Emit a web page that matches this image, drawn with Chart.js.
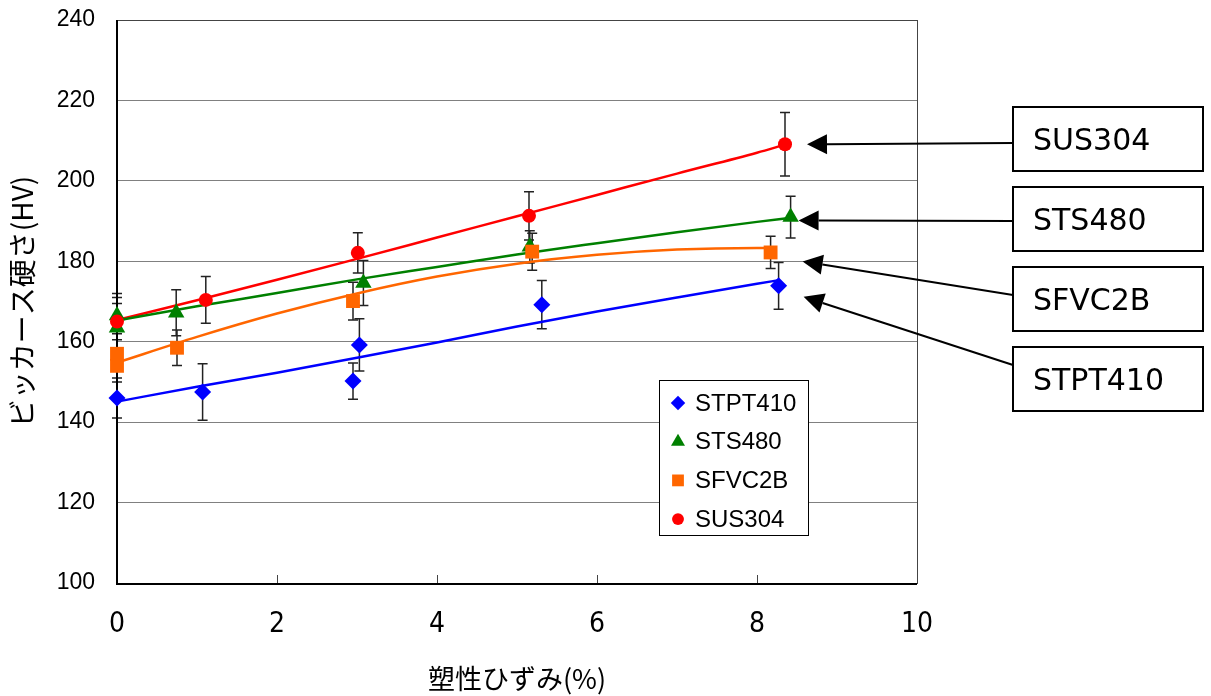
<!DOCTYPE html>
<html>
<head>
<meta charset="utf-8">
<script src="https://cdn.jsdelivr.net/npm/chart.js@4.4.1/dist/chart.umd.min.js"></script>
<style>
	html, body { margin: 0; padding: 0; background: #fff; }
	#wrap { width: 1211px; height: 696px; position: relative; }
</style>
</head>
<body>
<div id="wrap"><canvas id="chart"></canvas></div>
<script>
// series
const seriesNames = ["STPT410", "STS480", "SFVC2B", "SUS304"];
const seriesColors = ["#0000ff", "#008000", "#ff6600", "#ff0000"];
const seriesMarkers = ["rectRot", "triangle", "rect", "circle"];

// measured points (strain %, hardness HV, error +/-)
const stpt410X = [0, 1.07, 2.95, 3.03, 5.31, 8.27];
const stpt410Y = [146, 147.5, 150.2, 159.2, 169.2, 173.9];
const stpt410Err = [5, 7, 4.5, 6.5, 6, 5.8];

const sts480X = [0, 0, 0.74, 3.08, 5.16, 8.42];
const sts480Y = [166.5, 163.5, 167.2, 174.6, 183.6, 191];
const sts480Err = [4.5, 6, 5.7, 5.6, 4, 5.2];

const sfvc2bX = [0, 0, 0.75, 2.95, 5.19, 8.17];
const sfvc2bY = [157, 154, 158.5, 170.1, 182.4, 182.2];
const sfvc2bErr = [3.5, 4, 4.4, 4.7, 4.6, 4];

const sus304X = [0, 1.11, 3.01, 5.15, 8.35];
const sus304Y = [165, 170.4, 182.1, 191.3, 209.1];
const sus304Err = [7, 5.8, 5, 6, 7.9];

// trend curves
const stpt410TrendX = [0, 1, 2, 3, 4, 5, 6, 7, 8, 8.27];
const stpt410TrendY = [145.1, 148.8, 152.3, 156.0, 159.8, 163.8, 167.5, 171.0, 174.4, 175.3];
const sts480TrendX = [0, 1, 2, 3, 4, 5, 6, 7, 8, 8.45];
const sts480TrendY = [165.3, 168.8, 172.1, 175.5, 178.6, 181.7, 184.5, 187.2, 189.8, 190.9];
const sfvc2bTrendX = [0, 1, 2, 3, 4, 5, 6, 7, 8, 8.17];
const sfvc2bTrendY = [154.8, 161.2, 167.0, 172.0, 176.2, 179.4, 181.6, 182.9, 183.3, 183.3];
const sus304TrendX = [0, 1, 2, 3, 4, 5, 6, 7, 8, 8.35];
const sus304TrendY = [165.4, 170.3, 175.4, 180.6, 185.9, 191.2, 196.5, 201.8, 207.0, 209.0];

// axes
const xTicks = [0, 2, 4, 6, 8, 10];
const yTicks = [100, 120, 140, 160, 180, 200, 220, 240];
const xTitle = "塑性ひずみ(%)";
const yTitle = "ビッカース硬さ(HV)";

const pointsX = [stpt410X, sts480X, sfvc2bX, sus304X];
const pointsY = [stpt410Y, sts480Y, sfvc2bY, sus304Y];
const pointsErr = [stpt410Err, sts480Err, sfvc2bErr, sus304Err];
const trendX = [stpt410TrendX, sts480TrendX, sfvc2bTrendX, sus304TrendX];
const trendY = [stpt410TrendY, sts480TrendY, sfvc2bTrendY, sus304TrendY];

const markerRadius = [8.5, 9.5, 9.8, 7];

const pairs = (xs, ys) => xs.map((x, i) => ({ x, y: ys[i] }));

const datasets = [];
seriesNames.forEach((name, i) => {
	datasets.push({
		label: name,
		data: pairs(pointsX[i], pointsY[i]),
		errors: pointsErr[i],
		showLine: false,
		pointStyle: seriesMarkers[i],
		pointRadius: markerRadius[i],
		pointBackgroundColor: seriesColors[i],
		pointBorderWidth: 0,
		borderColor: seriesColors[i],
		clip: false,
		order: 3 - i,
	});
});
seriesNames.forEach((name, i) => {
	datasets.push({
		label: name + " trend",
		data: pairs(trendX[i], trendY[i]),
		showLine: true,
		borderColor: seriesColors[i],
		borderWidth: 2.5,
		pointRadius: 0,
		cubicInterpolationMode: "monotone",
		clip: false,
		order: 10,
	});
});

const errorBars = {
	id: "errorBars",
	beforeDatasetsDraw(chart) {
		const { ctx, scales } = chart;
		ctx.save();
		ctx.strokeStyle = "#222";
		ctx.lineWidth = 1.5;
		chart.data.datasets.forEach((ds) => {
			if (!ds.errors) return;
			ds.data.forEach((p, i) => {
				const px = scales.x.getPixelForValue(p.x);
				const top = scales.y.getPixelForValue(p.y + ds.errors[i]);
				const bot = scales.y.getPixelForValue(p.y - ds.errors[i]);
				ctx.beginPath();
				ctx.moveTo(px, top);
				ctx.lineTo(px, bot);
				ctx.moveTo(px - 5, top);
				ctx.lineTo(px + 5, top);
				ctx.moveTo(px - 5, bot);
				ctx.lineTo(px + 5, bot);
				ctx.stroke();
			});
		});
		ctx.restore();
	},
};

const frame = {
	id: "frame",
	beforeDatasetsDraw(chart) {
		const { ctx, chartArea: a, scales } = chart;
		ctx.save();
		ctx.strokeStyle = "#444";
		ctx.lineWidth = 1;
		ctx.strokeRect(a.left + 0.5, a.top + 0.5, a.right - a.left, a.bottom - a.top);
		// inward x ticks
		xTicks.slice(1, -1).forEach((v) => {
			const px = Math.round(scales.x.getPixelForValue(v)) + 0.5;
			ctx.beginPath();
			ctx.moveTo(px, a.bottom);
			ctx.lineTo(px, a.bottom - 8);
			ctx.stroke();
		});
		ctx.strokeStyle = "#000";
		ctx.lineWidth = 2;
		ctx.beginPath();
		ctx.moveTo(a.left, a.top);
		ctx.lineTo(a.left, a.bottom + 1);
		ctx.lineTo(a.right, a.bottom + 1);
		ctx.stroke();
		ctx.restore();
	},
};

const legendBox = { left: 659, top: 380, width: 149, height: 155, rowGap: 38.7 };

const boxLegend = {
	id: "boxLegend",
	afterDraw(chart) {
		const { ctx } = chart;
		ctx.save();
		ctx.fillStyle = "#fff";
		ctx.fillRect(legendBox.left, legendBox.top, legendBox.width, legendBox.height);
		ctx.strokeStyle = "#000";
		ctx.lineWidth = 1;
		ctx.strokeRect(legendBox.left + 0.5, legendBox.top + 0.5, legendBox.width, legendBox.height);
		ctx.font = "24px 'Liberation Sans', Arial, sans-serif";
		ctx.textBaseline = "middle";
		seriesNames.forEach((name, i) => {
			const y = legendBox.top + 23 + i * legendBox.rowGap;
			ctx.fillStyle = seriesColors[i];
			Chart.helpers.drawPoint(ctx, {
				pointStyle: seriesMarkers[i],
				radius: markerRadius[i] * 0.85,
				rotation: 0,
				borderWidth: 0,
			}, legendBox.left + 19, y);
			ctx.fillStyle = "#000";
			ctx.fillText(name, legendBox.left + 36, y + 1);
		});
		ctx.restore();
	},
};

// callout boxes, top to bottom, pointing at each series' last point
const calloutSeries = [3, 1, 2, 0];
const calloutTops = [107, 187, 267, 347];
const calloutLineY = [36, 34, 28, 18];
const calloutTipOffset = [[22, 0], [8, 3.5], [32, 9], [25, 11]];

const callouts = {
	id: "callouts",
	afterDraw(chart) {
		const { ctx, scales } = chart;
		const boxLeft = 1013, boxW = 190, boxH = 64;
		ctx.save();
		calloutSeries.forEach((s, i) => {
			const top = calloutTops[i];
			ctx.fillStyle = "#fff";
			ctx.fillRect(boxLeft, top, boxW, boxH);
			ctx.strokeStyle = "#000";
			ctx.lineWidth = 2;
			ctx.strokeRect(boxLeft, top, boxW, boxH);
			ctx.fillStyle = "#000";
			ctx.font = "30px 'DejaVu Sans', sans-serif";
			ctx.textBaseline = "middle";
			ctx.fillText(seriesNames[s], boxLeft + 20, top + boxH / 2 + 3);

			const xs = pointsX[s], ys = pointsY[s];
			const last = xs.length - 1;
			const tx = scales.x.getPixelForValue(xs[last]) + calloutTipOffset[i][0];
			const ty = scales.y.getPixelForValue(ys[last]) + calloutTipOffset[i][1];
			const sx = boxLeft, sy = top + calloutLineY[i];
			const ang = Math.atan2(ty - sy, tx - sx);
			const headLen = 20, headW = 10;
			const bx = tx - headLen * Math.cos(ang), by = ty - headLen * Math.sin(ang);
			ctx.beginPath();
			ctx.moveTo(sx, sy);
			ctx.lineTo(bx, by);
			ctx.stroke();
			ctx.beginPath();
			ctx.moveTo(tx, ty);
			ctx.lineTo(bx + headW * Math.sin(ang), by - headW * Math.cos(ang));
			ctx.lineTo(bx - headW * Math.sin(ang), by + headW * Math.cos(ang));
			ctx.closePath();
			ctx.fill();
		});
		ctx.restore();
	},
};

new Chart(document.getElementById("chart").getContext("2d"), {
	type: "scatter",
	data: { datasets },
	options: {
		responsive: true,
		maintainAspectRatio: false,
		animation: false,
		devicePixelRatio: 1,
		layout: { padding: { top: 20, right: 294, bottom: 0, left: 0 } },
		plugins: {
			legend: { display: false },
			tooltip: { enabled: false },
		},
		scales: {
			x: {
				type: "linear",
				min: 0,
				max: 10,
				afterBuildTicks: (s) => { s.ticks = xTicks.map((v) => ({ value: v })); },
				afterFit: (s) => { s.height = 113; },
				ticks: {
					color: "#000",
					padding: 25,
					font: { family: "'Liberation Sans Narrow', 'DejaVu Sans Condensed', sans-serif", size: 28 },
				},
				grid: { display: false, drawTicks: false },
				border: { display: false },
				title: {
					display: true,
					text: xTitle,
					color: "#000",
					font: { family: "'Noto Sans CJK JP', sans-serif", size: 27 },
					padding: { top: 0, bottom: 1 },
				},
			},
			y: {
				min: 100,
				max: 240,
				afterBuildTicks: (s) => { s.ticks = yTicks.map((v) => ({ value: v })); },
				afterFit: (s) => {
					s.width = 117;
					s.paddingTop = 12;
					s.paddingBottom = 12;
				},
				ticks: {
					color: "#000",
					padding: 22,
					font: { family: "'Liberation Sans', Arial, sans-serif", size: 23 },
				},
				grid: { color: "#808080", lineWidth: 1, drawTicks: false },
				border: { display: false },
				title: {
					display: true,
					text: yTitle,
					color: "#000",
					font: { family: "'Noto Sans CJK JP', sans-serif", size: 28 },
					padding: { top: 6, bottom: 0 },
				},
			},
		},
	},
	plugins: [errorBars, frame, boxLegend, callouts],
});
</script>
</body>
</html>
